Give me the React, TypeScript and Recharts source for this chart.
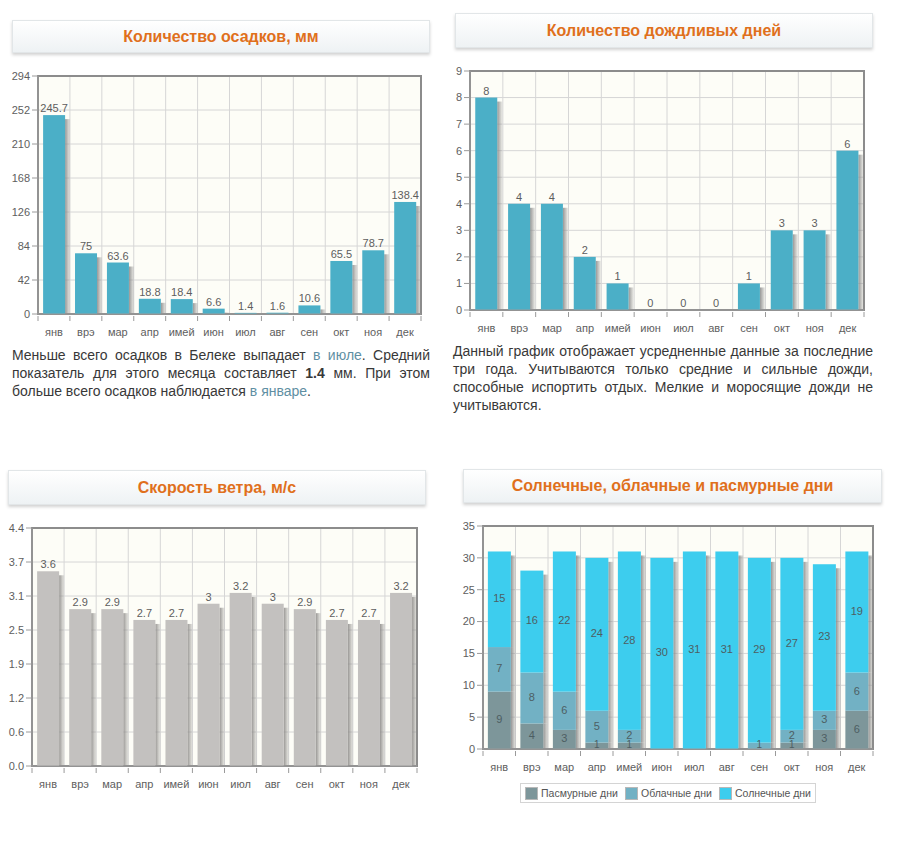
import React from "react";
import {
  Bar,
  BarChart,
  CartesianGrid,
  LabelList,
  ReferenceArea,
  XAxis,
  YAxis,
} from "recharts";

const months = ["янв", "врэ", "мар", "апр", "имей", "июн", "июл", "авг", "сен", "окт", "ноя", "дек"];

const precipitation = [245.7, 75, 63.6, 18.8, 18.4, 6.6, 1.4, 1.6, 10.6, 65.5, 78.7, 138.4];
const precipTicks = [0, 42, 84, 126, 168, 210, 252, 294];

const rainyDays = [8, 4, 4, 2, 1, 0, 0, 0, 1, 3, 3, 6];
const rainTicks = [0, 1, 2, 3, 4, 5, 6, 7, 8, 9];

const windSpeed = [3.6, 2.9, 2.9, 2.7, 2.7, 3, 3.2, 3, 2.9, 2.7, 2.7, 3.2];
const windMax = 4.4;
const windTickLabels = ["0.0", "0.6", "1.2", "1.9", "2.5", "3.1", "3.7", "4.4"];

const overcastDays = [9, 4, 3, 1, 1, 0, 0, 0, 0, 1, 3, 6];
const cloudyDays = [7, 8, 6, 5, 2, 0, 0, 0, 1, 2, 3, 6];
const sunnyDays = [15, 16, 22, 24, 28, 30, 31, 31, 29, 27, 23, 19];
const daysTicks = [0, 5, 10, 15, 20, 25, 30, 35];

const daysSeries = [
  { key: "overcast", name: "Пасмурные дни", color: "#7d969a" },
  { key: "cloudy", name: "Облачные дни", color: "#72b1c4" },
  { key: "sunny", name: "Солнечные дни", color: "#3dcdee" },
];

const precipData = months.map((month, i) => ({ month, value: precipitation[i] }));
const rainData = months.map((month, i) => ({ month, value: rainyDays[i] }));
const windData = months.map((month, i) => ({ month, value: windSpeed[i] }));
const daysData = months.map((month, i) => ({
  month,
  overcast: overcastDays[i],
  cloudy: cloudyDays[i],
  sunny: sunnyDays[i],
}));

const FONT = "'Liberation Sans', Arial, sans-serif";
const AXIS_TEXT = { fontSize: 11, fill: "#5e5e5e", fontFamily: FONT };

function Title({ left, top, width, height, text }: any) {
  return (
    <div
      style={{
        position: "absolute",
        left,
        top,
        width,
        height,
        boxSizing: "border-box",
        border: "1px solid #e2e6e8",
        background: "linear-gradient(#ffffff, #eef2f4)",
        boxShadow: "0 2px 3px rgba(0,0,0,0.18)",
        color: "#e0701c",
        fontFamily: FONT,
        fontWeight: "bold",
        fontSize: 16,
        display: "flex",
        alignItems: "center",
        justifyContent: "center",
      }}
    >
      {text}
    </div>
  );
}

function ShadowBar(props: any) {
  const { x, y, width, height, fill, shadowId, shadowTop = 4 } = props;
  if (!height || height <= 0) return null;
  const sy = y + Math.min(shadowTop, height);
  return (
    <g>
      <rect x={x + width} y={sy} width={5} height={y + height - sy} fill={`url(#${shadowId})`} />
      <rect x={x} y={y} width={width} height={height} fill={fill} />
    </g>
  );
}

function monthTick(band: number, count: number) {
  return (props: any) => {
    const { x, y, payload } = props;
    const bx = x - band / 2;
    return (
      <g>
        <line x1={bx} y1={y} x2={bx} y2={y + 5} stroke="#9a9a9a" />
        {payload.index === count - 1 && (
          <line x1={bx + band} y1={y} x2={bx + band} y2={y + 5} stroke="#9a9a9a" />
        )}
        <text x={x} y={y + 17} textAnchor="middle" dominantBaseline="middle" {...AXIS_TEXT}>
          {payload.value}
        </text>
      </g>
    );
  };
}

function ShadowDefs({ id, dark }: { id: string; dark: string }) {
  return (
    <defs>
      <linearGradient id={id} x1="0" y1="0" x2="1" y2="0">
        <stop offset="0%" stopColor={dark} stopOpacity={0.9} />
        <stop offset="100%" stopColor={dark} stopOpacity={0.15} />
      </linearGradient>
    </defs>
  );
}

const gridCoords = ({ offset }: any) =>
  Array.from({ length: months.length + 1 }, (_, i) => offset.left + (i * offset.width) / months.length);

function SingleBarChart({
  left,
  top,
  width,
  height,
  margin,
  yWidth,
  data,
  ticks,
  max,
  color,
  shadowColor,
  tickFormatter,
  id,
}: any) {
  const plotWidth = width - margin.left - margin.right - yWidth;
  const band = plotWidth / data.length;
  return (
    <div style={{ position: "absolute", left, top }}>
      <BarChart width={width} height={height} data={data} margin={margin} barCategoryGap="16%">
        <ShadowDefs id={id} dark={shadowColor} />
        <CartesianGrid
          stroke="#d6d6d6"
          fill="#fdfdf7"
          verticalCoordinatesGenerator={gridCoords}
        />
        <XAxis
          dataKey="month"
          axisLine={{ stroke: "#9a9a9a" }}
          tickLine={false}
          tickSize={0}
          height={24}
          interval={0}
          tick={monthTick(band, data.length)}
        />
        <YAxis
          width={yWidth}
          domain={[0, max]}
          ticks={ticks}
          interval={0}
          axisLine={{ stroke: "#9a9a9a" }}
          tickLine={{ stroke: "#9a9a9a" }}
          tickSize={6}
          tickMargin={2}
          tick={AXIS_TEXT}
          tickFormatter={tickFormatter}
        />
        <ReferenceArea y1={0} y2={max} fill="none" stroke="#8c8c8c" strokeWidth={2} ifOverflow="visible" />
        <Bar
          dataKey="value"
          fill={color}
          isAnimationActive={false}
          shape={(p: any) => <ShadowBar {...p} shadowId={id} />}
        >
          <LabelList dataKey="value" position="top" offset={3} style={AXIS_TEXT} fill="#5e5e5e" />
        </Bar>
      </BarChart>
    </div>
  );
}

function CenterLabel(props: any) {
  const { x, y, width, height, value } = props;
  if (!value) return null;
  return (
    <text
      x={x + width / 2}
      y={y + height / 2}
      textAnchor="middle"
      dominantBaseline="middle"
      fontSize={height < 10 ? 10 : 11}
      fontFamily={FONT}
      fill="#4d5e63"
    >
      {value}
    </text>
  );
}

function DaysChart() {
  const width = 471;
  const height = 300;
  const margin = { top: 16, right: 38, left: 13, bottom: 37 };
  const yWidth = 30;
  const band = (width - margin.left - margin.right - yWidth) / months.length;
  return (
    <div style={{ position: "absolute", left: 440, top: 510 }}>
      <BarChart width={width} height={height} data={daysData} margin={margin} barCategoryGap="15%">
        <ShadowDefs id="shDays" dark="#8a8a8a" />
        <CartesianGrid stroke="#d6d6d6" fill="#fdfdf7" verticalCoordinatesGenerator={gridCoords} />
        <XAxis
          dataKey="month"
          axisLine={{ stroke: "#9a9a9a" }}
          tickLine={false}
          tickSize={0}
          height={24}
          interval={0}
          tick={monthTick(band, months.length)}
        />
        <YAxis
          width={yWidth}
          domain={[0, 35]}
          ticks={daysTicks}
          interval={0}
          axisLine={{ stroke: "#9a9a9a" }}
          tickLine={{ stroke: "#9a9a9a" }}
          tickSize={6}
          tickMargin={2}
          tick={AXIS_TEXT}
        />
        <ReferenceArea y1={0} y2={35} fill="none" stroke="#8c8c8c" strokeWidth={2} ifOverflow="visible" />
        {daysSeries.map((s, i) => (
          <Bar
            key={s.key}
            dataKey={s.key}
            name={s.name}
            stackId="days"
            fill={s.color}
            isAnimationActive={false}
            shape={(p: any) => (
              <ShadowBar {...p} shadowId="shDays" shadowTop={i === daysSeries.length - 1 ? 4 : 0} />
            )}
          >
            <LabelList dataKey={s.key} content={CenterLabel} />
          </Bar>
        ))}
      </BarChart>
    </div>
  );
}

function DaysLegend() {
  return (
    <div
      style={{
        position: "absolute",
        left: 520,
        top: 783,
        width: 296,
        height: 20,
        boxSizing: "border-box",
        border: "1px solid #d4d4d4",
        display: "flex",
        alignItems: "center",
        justifyContent: "space-between",
        padding: "0 4px",
        fontFamily: FONT,
        fontSize: 10.5,
        color: "#555",
        whiteSpace: "nowrap",
      }}
    >
      {daysSeries.map((s) => (
        <div key={s.key} style={{ display: "flex", alignItems: "center", gap: 3 }}>
          <span
            style={{
              width: 11,
              height: 11,
              background: s.color,
              border: "1px solid #b8b8b8",
              display: "inline-block",
              flexShrink: 0,
            }}
          />
          <span>{s.name}</span>
        </div>
      ))}
    </div>
  );
}

const linkStyle = { color: "#5f8fa3" };

function Paragraph({ left, top, width, lines }: any) {
  return (
    <div
      style={{
        position: "absolute",
        left,
        top,
        width,
        fontFamily: FONT,
        fontSize: 14,
        lineHeight: "18px",
        color: "#383838",
      }}
    >
      {lines.map((line: any, i: number) => (
        <div
          key={i}
          style={{
            whiteSpace: "nowrap",
            textAlign: "justify",
            textAlignLast: i === lines.length - 1 ? "left" : "justify",
          }}
        >
          {line}
        </div>
      ))}
    </div>
  );
}

export default function App() {
  return (
    <div
      style={{
        position: "absolute",
        left: 0,
        top: 0,
        width: 911,
        height: 845,
        background: "#fff",
        overflow: "hidden",
      }}
    >
      <Title left={12} top={20} width={418} height={33} text="Количество осадков, мм" />
      <SingleBarChart
        id="shPrecip"
        left={0}
        top={60}
        width={440}
        height={290}
        margin={{ top: 16, right: 19, left: 8, bottom: 12 }}
        yWidth={30}
        data={precipData}
        ticks={precipTicks}
        max={294}
        color="#4bafc7"
        shadowColor="#8c8c8c"
      />
      <Paragraph
        left={12}
        top={346}
        width={418}
        lines={[
          <>Меньше всего осадков в Белеке выпадает <span style={linkStyle}>в июле</span>. Средний</>,
          <>показатель для этого месяца составляет <b>1.4</b> мм. При этом</>,
          <>больше всего осадков наблюдается <span style={linkStyle}>в январе</span>.</>,
        ]}
      />

      <Title left={455} top={13} width={418} height={35} text="Количество дождливых дней" />
      <SingleBarChart
        id="shRain"
        left={440}
        top={55}
        width={471}
        height={290}
        margin={{ top: 16, right: 47, left: 8, bottom: 11 }}
        yWidth={22}
        data={rainData}
        ticks={rainTicks}
        max={9}
        color="#4bafc7"
        shadowColor="#8c8c8c"
      />
      <Paragraph
        left={453}
        top={342}
        width={420}
        lines={[
          "Данный график отображает усредненные данные за последние",
          "три года. Учитываются только средние и сильные дожди,",
          "способные испортить отдых. Мелкие и моросящие дожди не",
          "учитываются.",
        ]}
      />

      <Title left={8} top={470} width={418} height={35} text="Скорость ветра, м/с" />
      <SingleBarChart
        id="shWind"
        left={0}
        top={512}
        width={440}
        height={290}
        margin={{ top: 16, right: 23, left: 6, bottom: 12 }}
        yWidth={26}
        data={windData}
        ticks={windTickLabels.map((_, i) => (i * windMax) / (windTickLabels.length - 1))}
        max={windMax}
        color="#c3c1bf"
        shadowColor="#8e8c8a"
        tickFormatter={(_: number, i: number) => windTickLabels[i]}
      />

      <Title left={463} top={469} width={419} height={34} text="Солнечные, облачные и пасмурные дни" />
      <DaysChart />
      <DaysLegend />
    </div>
  );
}
